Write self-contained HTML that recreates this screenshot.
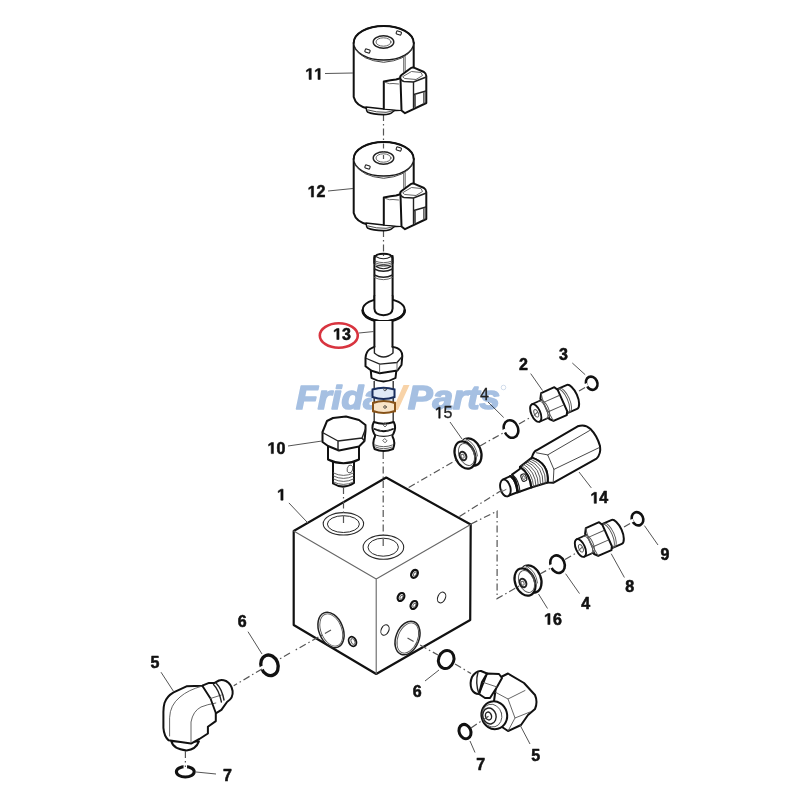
<!DOCTYPE html>
<html><head><meta charset="utf-8"><style>
html,body{margin:0;padding:0;background:#fff;width:800px;height:800px;overflow:hidden}
svg{display:block}
.o{fill:none;stroke:#111;stroke-width:2;stroke-linejoin:round;stroke-linecap:round}
.m{fill:none;stroke:#222;stroke-width:1.4;stroke-linejoin:round;stroke-linecap:round}
.t{fill:none;stroke:#555;stroke-width:0.9;stroke-linejoin:round;stroke-linecap:round}
.w{fill:#fff;stroke:#111;stroke-width:2;stroke-linejoin:round}
.wm{fill:#fff;stroke:#222;stroke-width:1.3;stroke-linejoin:round}
.l{fill:none;stroke:#555;stroke-width:1}
.d{fill:none;stroke:#555;stroke-width:1.2;stroke-dasharray:7 3 1.5 3}
.r{fill:none;stroke:#111;stroke-width:2.6}
.n{font-family:"Liberation Sans",sans-serif;font-weight:bold;font-size:16px;fill:#111;stroke:#111;stroke-width:0.55;stroke-linejoin:round}
.nr{font-family:"Liberation Sans",sans-serif;font-weight:normal;font-size:16px;fill:#222;stroke:#222;stroke-width:0.3}
</style></head><body>
<svg width="800" height="800" viewBox="0 0 800 800">
<rect width="800" height="800" fill="#fff"/>

<!-- ===== dashed center lines ===== -->
<g id="dashes">
<path class="d" d="M383.5 114 V165"/>
<path class="d" d="M383.5 230 V262"/>
</g>

<!-- ===== solenoid 11 ===== -->
<g id="sol">
<!-- body -->
<path class="w" d="M353.7 43 V97 Q356 106 368 108 Q383 111 401 110 L401 80 L413.7 76 V43 Z" style="stroke:none"/>
<path class="o" d="M353.7 43 V97 Q356 106 368 108.5 Q384 111 401 110"/>
<path class="o" d="M413.7 43 V67"/>
<!-- top face -->
<ellipse cx="383.7" cy="43" rx="30" ry="17" fill="#fff" stroke="#1a1a1a" stroke-width="1.4"/>
<path class="o" d="M353.7 43 A30 17 0 0 1 413.7 43"/>
<path class="t" d="M355 48.5 Q362 60.5 383.7 62.3 Q405.5 60.5 412.6 48.5" style="stroke:#444;stroke-width:1"/>
<ellipse class="m" cx="383.5" cy="42" rx="10.3" ry="6.3"/>
<ellipse class="t" cx="383.5" cy="42" rx="7.5" ry="4.2"/>
<rect class="m" x="396.3" y="31.4" width="5" height="3.2" rx="0.8" transform="rotate(20 398.8 33)" style="stroke-width:1.1"/>
<rect class="m" x="365" y="49.4" width="5" height="3.2" rx="0.8" transform="rotate(20 367.5 51)" style="stroke-width:1.1"/>
<path class="t" d="M403.7 57 V72 M405.2 56.5 V71"/>
<!-- bottom nub -->
<path class="w" d="M366 107 Q366.5 111 367.5 112 Q373 114.5 383.5 114.6 Q390 114.5 392 112.5 L395 110 L383.8 109 Z" style="stroke-width:1.6"/>
<path class="t" d="M368 110 Q376 112.5 386 112.3 Q391 111.8 393 110.5" style="stroke:#333"/>
<!-- connector -->
<path class="w" d="M383.7 81.5 L398.8 79 L399 76 L412.5 67.3 L426.3 74.5 L426.3 103 L405 113 L401 110 L383.7 108.5 Z" style="stroke:none"/>
<path class="o" d="M383.8 108.8 V81.5 Q391 80 396 79.5 L399.5 78.5"/>
<path class="o" d="M401.5 110.5 L400.5 79 Q399.5 76.5 401.5 75 L411 68 Q412.5 67 414.5 67.8 L424 72 Q426.3 73.5 426.3 76 V103 L405 113.2 L401.5 110.5"/>
<path class="m" d="M401 79.5 Q402 81 404 81.5 L413.5 82 L426.3 77 M413.5 82 V107.5"/>
<path class="t" d="M403 76.5 L411.5 71.5 L421 72.5 L422.5 75.5 L416 79.5 L405 78.5 Z"/>
<path class="m" d="M413.8 94.5 L426 91 M415 94.5 V106.5"/>
<path class="t" d="M423.5 92.5 V103.5 M424.8 92 V103"/>
<path class="t" d="M385.5 82.5 Q390 84.5 393 83.5 L398.5 84"/>
</g>
<g transform="translate(0,116)">
<!-- body -->
<path class="w" d="M353.7 43 V97 Q356 106 368 108 Q383 111 401 110 L401 80 L413.7 76 V43 Z" style="stroke:none"/>
<path class="o" d="M353.7 43 V97 Q356 106 368 108.5 Q384 111 401 110"/>
<path class="o" d="M413.7 43 V67"/>
<!-- top face -->
<ellipse cx="383.7" cy="43" rx="30" ry="17" fill="#fff" stroke="#1a1a1a" stroke-width="1.4"/>
<path class="o" d="M353.7 43 A30 17 0 0 1 413.7 43"/>
<path class="t" d="M355 48.5 Q362 60.5 383.7 62.3 Q405.5 60.5 412.6 48.5" style="stroke:#444;stroke-width:1"/>
<ellipse class="m" cx="383.5" cy="42" rx="10.3" ry="6.3"/>
<ellipse class="t" cx="383.5" cy="42" rx="7.5" ry="4.2"/>
<rect class="m" x="396.3" y="31.4" width="5" height="3.2" rx="0.8" transform="rotate(20 398.8 33)" style="stroke-width:1.1"/>
<rect class="m" x="365" y="49.4" width="5" height="3.2" rx="0.8" transform="rotate(20 367.5 51)" style="stroke-width:1.1"/>
<path class="t" d="M403.7 57 V72 M405.2 56.5 V71"/>
<!-- bottom nub -->
<path class="w" d="M366 107 Q366.5 111 367.5 112 Q373 114.5 383.5 114.6 Q390 114.5 392 112.5 L395 110 L383.8 109 Z" style="stroke-width:1.6"/>
<path class="t" d="M368 110 Q376 112.5 386 112.3 Q391 111.8 393 110.5" style="stroke:#333"/>
<!-- connector -->
<path class="w" d="M383.7 81.5 L398.8 79 L399 76 L412.5 67.3 L426.3 74.5 L426.3 103 L405 113 L401 110 L383.7 108.5 Z" style="stroke:none"/>
<path class="o" d="M383.8 108.8 V81.5 Q391 80 396 79.5 L399.5 78.5"/>
<path class="o" d="M401.5 110.5 L400.5 79 Q399.5 76.5 401.5 75 L411 68 Q412.5 67 414.5 67.8 L424 72 Q426.3 73.5 426.3 76 V103 L405 113.2 L401.5 110.5"/>
<path class="m" d="M401 79.5 Q402 81 404 81.5 L413.5 82 L426.3 77 M413.5 82 V107.5"/>
<path class="t" d="M403 76.5 L411.5 71.5 L421 72.5 L422.5 75.5 L416 79.5 L405 78.5 Z"/>
<path class="m" d="M413.8 94.5 L426 91 M415 94.5 V106.5"/>
<path class="t" d="M423.5 92.5 V103.5 M424.8 92 V103"/>
<path class="t" d="M385.5 82.5 Q390 84.5 393 83.5 L398.5 84"/>
</g>
<path class="d" d="M383.5 143.5 V159" style="stroke-dasharray:5 2.5 1.5 2.5"/>

<!-- labels 11, 12 -->
<path class="l" d="M325 73.5 L353 73"/>
<path class="l" d="M328 191 L353 188.5"/>

<!-- ===== shaft 13 ===== -->
<g id="shaft">
<path class="w" d="M374.4 256 V300 H392.5 V256 Z" style="stroke:none"/>
<path class="o" d="M374.4 256 V301 M392.6 256 V301"/>
<path class="o" d="M374.4 263 V258 Q375.5 254.5 380 254 Q383.5 253.6 387 254 Q391.5 254.5 392.5 258 V263"/>
<path class="m" d="M375.8 256.5 Q383.5 261 391.2 256.5" style="stroke-width:1.1"/>
<path class="t" d="M375 261 Q383.5 264.5 392 261 M375 262.8 Q383.5 266.3 392 262.8 M375 264.6 Q383.5 268.1 392 264.6"/>
<path class="m" d="M376 266.5 Q383.5 263.5 391 266.5 Q383.5 271 376 266.5" style="stroke-width:1.1"/>
<path class="m" d="M374.4 269 Q383.5 273.5 392.5 269"/>
<path class="m" d="M374.4 275 Q383.5 279.5 392.5 275"/>
<path class="t" d="M374.4 277.5 Q383.5 282 392.5 277.5"/>
<!-- flange -->
<ellipse class="w" cx="383.7" cy="309.9" rx="21" ry="11.2"/>
<path class="o" d="M362.7 310.5 A21 11.2 0 0 0 404.7 310.5" style="stroke-width:2.6"/>
<path class="w" d="M374.4 296 V308.5 Q374.6 315 383.5 315.2 Q392.4 315 392.6 308.5 V296" style="stroke:none"/>
<path class="o" d="M374.4 296 V308.5 Q374.6 315 383.5 315.2 Q392.4 315 392.6 308.5 V296"/>
<!-- lower tube -->
<path class="w" d="M374.4 321 V350 H392.5 V321 Z" style="stroke:none"/>
<path class="o" d="M374.4 320.5 V351 M392.5 320.5 V351"/>
<!-- ring below nut -->
<path class="w" d="M370.8 370.8 L371.5 378 Q383.5 385 395.5 378 L396.3 371"/>
<!-- hex nut -->
<path d="M365.5 358 Q366 351.5 370 349 Q373 347.2 376 347 H392 Q398 347.5 400.5 350.5 Q402.5 353 402.3 356 L401.5 365 L397.5 370.5 L379.8 373.2 L371.5 370.8 L365.5 366.3 Z" fill="#fff"/>
<path class="o" d="M374.4 347 Q373 347.2 370 349 Q366 351.5 365.5 358 V366.3 L371.5 370.8 L379.8 373.2 L397.5 370.5 L401.5 365 L402.3 356 Q402.5 353 400.5 350.5 Q398 347.5 392.5 347"/>
<path class="m" d="M366.5 358.5 L379.8 364.2 L397 362.5 L401.8 357" style="stroke-width:1.3"/>
<path class="t" d="M379.6 364.5 V372.8 M397 362.5 V370.5"/>
<path class="m" d="M374.4 347 V353 Q383.5 361 393 353 V347" style="stroke-width:1.4"/>
<!-- cartridge body -->
<path class="w" d="M374.2 383 V422 H393.2 V383" style="stroke:none"/>
<path d="M374.2 381 V422 M393.2 381 V422" fill="none" stroke="#333" stroke-width="1.4"/>
<path d="M372.5 389.5 Q383.5 386 394.5 389.5 V397 Q383.5 401 372.5 397 Z" fill="#fff" stroke="#1c3261" stroke-width="2"/>
<path d="M373 403 Q383.5 399 395 403 V411 Q383.5 415 373 411 Z" fill="#fff" stroke="#8a5a1e" stroke-width="2"/>
<path class="w" d="M373.8 422 Q371 427.5 374 433.5 Q375.5 435 375 436.5 Q372 442.5 374.5 449 Q383.5 453 393 449 Q395.8 442.5 392.5 436.5 Q392 435 393.5 433.5 Q396.5 427.5 393.8 422 Q383.5 425.5 373.8 422 Z"/>
<path class="o" d="M374.5 429 Q383.5 433.5 393 429" style="stroke-width:1.8"/>
<path class="m" d="M375 434.8 Q383.5 438 392.5 434.8" style="stroke-width:1.2"/>
<path class="t" d="M375 445 Q383.5 448.5 392.5 445 M375.5 447 Q383.5 450.5 392 447"/>
<path class="t" d="M385 423 l1.8 2 l-1.8 2 l-1.8 -2 Z M385 438.8 l2 2 l-2 2 l-2 -2 Z"/>
<path class="t" d="M377 429.5 Q380 430 381.5 431 M386.5 431 Q389 430.5 390.5 429.5"/>
<circle class="t" cx="385" cy="389.5" r="1.3"/>
<circle class="t" cx="385" cy="407" r="1.3"/>
</g>


<!-- ===== plug 10 ===== -->
<g id="plug10">
<path class="w" d="M333 462 V483.5 Q343.5 490 354 483 V462 Z"/>
<path class="t" d="M333.5 473 Q343.5 478 353.5 473 M333.5 476 Q343.5 481 353.5 476 M333.5 479 Q343.5 484 353.5 479 M333.5 482 Q343.5 487 353.5 482"/>
<ellipse class="t" cx="350" cy="469" rx="2.8" ry="4" transform="rotate(15 350 469)"/>
<path class="w" d="M328 445 V459.5 Q343.5 467 359 459.5 V445 Z"/>
<path class="w" d="M322.5 432 L327 421 L333 418 L346 416.5 L359 420 L365.5 425 L365.5 431 L364.5 441 L359 446.5 L339 450.5 L328 446 L322.5 442 Z"/>
<path class="m" d="M322.5 432.5 L338 441 L362 438 L365.5 429 M338 441 V450.5 M362 438 L364.5 441"/>
</g>

<!-- ===== block 1 ===== -->
<g id="block">
<path d="M293.7 531 L386.2 477.5 L470.7 524.5 L470.2 620 L376.2 674 L293.7 625 Z" fill="#fff" stroke="#111" stroke-width="2.2" stroke-linejoin="round"/>
<path class="t" d="M293.7 531 L376.2 579 L470.7 524.5 M376.2 579 V674" style="stroke:#666;stroke-width:1.1"/>
<ellipse cx="343.4" cy="523.8" rx="20.2" ry="11.2" fill="none" stroke="#2a2a2a" stroke-width="1.1"/>
<ellipse cx="343.4" cy="524.1" rx="16" ry="8.4" fill="none" stroke="#2a2a2a" stroke-width="1"/>
<ellipse cx="383.4" cy="547.2" rx="20.3" ry="12.1" fill="none" stroke="#2a2a2a" stroke-width="1.1"/>
<ellipse cx="383.2" cy="547.2" rx="15.2" ry="9" fill="none" stroke="#2a2a2a" stroke-width="1"/>
<!-- left face port -->
<ellipse class="m" cx="331" cy="630" rx="12" ry="18.5" transform="rotate(-22 331 630)" style="stroke-width:1.5"/>
<ellipse class="t" cx="331.3" cy="630" rx="10.3" ry="16.8" transform="rotate(-22 331.3 630)"/>
<ellipse class="o" cx="352.5" cy="641.5" rx="3.6" ry="5" transform="rotate(-25 352.5 641.5)" style="stroke-width:1.8"/>
<ellipse class="t" cx="353" cy="641.5" rx="1.8" ry="3" transform="rotate(-25 353 641.5)"/>
<!-- right face -->
<ellipse class="m" cx="407.5" cy="638" rx="11.5" ry="17.5" transform="rotate(22 407.5 638)" style="stroke-width:1.5"/>
<ellipse class="t" cx="407.8" cy="638" rx="9.8" ry="15.8" transform="rotate(22 407.8 638)"/>
<ellipse class="o" cx="414.5" cy="573.8" rx="3" ry="4.2" transform="rotate(30 414.5 573.8)" style="stroke-width:2.3"/>
<ellipse class="t" cx="415.0" cy="573.8" rx="1.3" ry="2.2" transform="rotate(30 414.5 573.8)"/>
<ellipse class="o" cx="401" cy="597" rx="3" ry="4.2" transform="rotate(30 401 597)" style="stroke-width:2.3"/>
<ellipse class="t" cx="401.5" cy="597" rx="1.3" ry="2.2" transform="rotate(30 401 597)"/>
<ellipse class="o" cx="413.9" cy="605" rx="3" ry="4.2" transform="rotate(30 413.9 605)" style="stroke-width:2.3"/>
<ellipse class="t" cx="414.4" cy="605" rx="1.3" ry="2.2" transform="rotate(30 413.9 605)"/>
<ellipse class="m" cx="441.6" cy="597.5" rx="3.8" ry="5.6" transform="rotate(25 441.6 597.5)" style="stroke-width:1.1"/>
<ellipse class="m" cx="385" cy="630" rx="3.8" ry="5.4" transform="rotate(25 385 630)" style="stroke-width:1.1"/>
</g>


<!-- ===== fitting 2 (symbol) ===== -->
<g id="fit2">
<g transform="translate(535.75 413) rotate(-24)">
<path class="w" d="M27.5 -13 H39.5 A5.5 13 0 0 1 39.5 13 H27.5 Z"/>
<path class="t" d="M29.5 -13 A5 13 0 0 1 29.5 13 M31.5 -13 A5 13 0 0 1 31.5 13"/>
<path class="w" d="M10 -11 L13 -16 H27.5 L29.5 -12 V11 L27.5 14.5 H13 L10 11 Z"/>
<path class="t" d="M13 -16 Q10.5 -6 12 4 L13 14.5 M12 4 H28.5 M11.5 -6.5 H28.5"/>
<path class="w" d="M0 -9.5 H10.5 V9.5 H0 Z" style="stroke:none"/>
<path class="o" d="M0 -9.5 H10.5 M0 9.5 H10.5" style="stroke-width:1.7"/>
<path class="t" d="M7.5 -9.5 A4 9.5 0 0 1 7.5 9.5 M9.5 -9.5 A4 9.5 0 0 1 9.5 9.5"/>
<ellipse class="w" cx="0" cy="0" rx="4.5" ry="9.5" style="stroke-width:1.9"/>
<ellipse class="t" cx="0.3" cy="0.5" rx="2" ry="4"/>
<path class="t" d="M-2.5 1.5 L2 0"/>
</g>
</g>
<g transform="translate(44.7 135)">
<g transform="translate(535.75 413) rotate(-24)">
<path class="w" d="M27.5 -13 H39.5 A5.5 13 0 0 1 39.5 13 H27.5 Z"/>
<path class="t" d="M29.5 -13 A5 13 0 0 1 29.5 13 M31.5 -13 A5 13 0 0 1 31.5 13"/>
<path class="w" d="M10 -11 L13 -16 H27.5 L29.5 -12 V11 L27.5 14.5 H13 L10 11 Z"/>
<path class="t" d="M13 -16 Q10.5 -6 12 4 L13 14.5 M12 4 H28.5 M11.5 -6.5 H28.5"/>
<path class="w" d="M0 -9.5 H10.5 V9.5 H0 Z" style="stroke:none"/>
<path class="o" d="M0 -9.5 H10.5 M0 9.5 H10.5" style="stroke-width:1.7"/>
<path class="t" d="M7.5 -9.5 A4 9.5 0 0 1 7.5 9.5 M9.5 -9.5 A4 9.5 0 0 1 9.5 9.5"/>
<ellipse class="w" cx="0" cy="0" rx="4.5" ry="9.5" style="stroke-width:1.9"/>
<ellipse class="t" cx="0.3" cy="0.5" rx="2" ry="4"/>
<path class="t" d="M-2.5 1.5 L2 0"/>
</g>
</g>

<!-- ===== plug 15 (symbol) ===== -->
<g id="plug15">
<ellipse class="w" cx="471" cy="452" rx="9.8" ry="14.2" transform="rotate(-22 471 452)" style="stroke-width:2.3"/>
<path class="w" d="M459 442.5 L466 438.6 L474 465.8 L467.5 469.5 Z" style="stroke:none"/>
<ellipse class="w" cx="465" cy="455" rx="9.8" ry="14.2" transform="rotate(-22 465 455)" style="stroke-width:2.2"/>
<ellipse class="t" cx="466.5" cy="454.5" rx="7.4" ry="11.4" transform="rotate(-22 466.5 454.5)"/>
<path class="t" d="M467 439.5 Q476 444 477.5 456 M465.5 440 Q474 446 475.5 457"/>
<ellipse class="m" cx="463" cy="456" rx="3.2" ry="4.4" transform="rotate(-22 463 456)" style="stroke-width:2"/>
<ellipse class="t" cx="462.6" cy="456.3" rx="1.5" ry="2" transform="rotate(-22 462.6 456.3)"/>
</g>
<g transform="translate(60 127)">
<ellipse class="w" cx="471" cy="452" rx="9.8" ry="14.2" transform="rotate(-22 471 452)" style="stroke-width:2.3"/>
<path class="w" d="M459 442.5 L466 438.6 L474 465.8 L467.5 469.5 Z" style="stroke:none"/>
<ellipse class="w" cx="465" cy="455" rx="9.8" ry="14.2" transform="rotate(-22 465 455)" style="stroke-width:2.2"/>
<ellipse class="t" cx="466.5" cy="454.5" rx="7.4" ry="11.4" transform="rotate(-22 466.5 454.5)"/>
<path class="t" d="M467 439.5 Q476 444 477.5 456 M465.5 440 Q474 446 475.5 457"/>
<ellipse class="m" cx="463" cy="456" rx="3.2" ry="4.4" transform="rotate(-22 463 456)" style="stroke-width:2"/>
<ellipse class="t" cx="462.6" cy="456.3" rx="1.5" ry="2" transform="rotate(-22 462.6 456.3)"/>
</g>

<!-- ===== cartridge 14 ===== -->
<g id="c14">
<path class="w" d="M531.9 457.6 Q533.5 451.5 536.5 450.3 L577.7 426.3 Q585 423.6 590.5 429 Q597 435.5 600 446 Q601.2 454 596.5 458.6 L553.2 482.8 L547.7 482.5 Q549 463 531.9 457.6 Z"/>
<path class="t" d="M536.5 452.8 L547.7 454.9 L553.9 469.4 L553.2 482.8 M547.7 454.9 L589.5 430.6 M553.9 469.4 L599.6 447.4" style="stroke:#333"/>
<path class="w" d="M520 466.9 L531.9 457.6 Q549 463 547.7 482.5 L531.25 487.5 Q530 474 520 466.9 Z"/>
<path class="t" d="M521.7 465.6 Q532.7 472.4 533.6 486.8 M523.4 464.2 Q535.4 470.9 536.0 486.1 M525.1 462.9 Q538.1 469.3 538.3 485.4 M526.8 461.6 Q540.9 467.7 540.6 484.6 M528.5 460.3 Q543.6 466.1 543.0 483.9 M530.2 458.9 Q546.3 464.6 545.4 483.2" style="stroke:#444"/>
<path class="w" d="M512 474.6 L519.8 469 L520 466.9 Q530 474 531.25 487.5 L518 492.3 Q517 480 512 474.6 Z"/>
<rect class="m" x="521.3" y="474" width="5" height="7.2" rx="2" transform="rotate(-20 523.8 477.6)" style="stroke-width:1.1"/>
<rect class="t" x="522.6" y="475.8" width="2.4" height="3.6" rx="1" transform="rotate(-20 523.8 477.6)"/>
<path class="w" d="M502.75 479.6 L510.5 476 Q516.5 481 517.5 492.3 L507.25 496.1 Z"/>
<path class="o" d="M510.5 476 Q516.5 481 517.5 492.3" style="stroke-width:2"/>
<path class="m" d="M513 475.2 Q519 480 520 491.8" style="stroke-width:1.2"/>
<ellipse class="w" cx="505.4" cy="488" rx="5" ry="8.6" transform="rotate(-15 505.4 488)" style="stroke-width:1.9"/>
<path class="t" d="M501 492 L506 489.5"/>
</g>

<!-- ===== o-rings ===== -->
<g id="orings">
<ellipse class="r" cx="591.7" cy="383.2" rx="5.6" ry="6.8" transform="rotate(-25 591.7 383.2)"/>
<ellipse class="r" cx="637.5" cy="518.8" rx="5.6" ry="6.8" transform="rotate(-25 637.5 518.8)"/>
<ellipse class="r" cx="511" cy="429" rx="7" ry="9" transform="rotate(-22 511 429)"/>
<ellipse class="r" cx="557.5" cy="564.2" rx="7" ry="9" transform="rotate(-22 557.5 564.2)"/>
<ellipse class="r" cx="269.5" cy="665.3" rx="8.5" ry="10.5" transform="rotate(-20 269.5 665.3)" style="stroke-width:3.3"/>
<ellipse class="r" cx="446.2" cy="659.5" rx="7.6" ry="9.2" transform="rotate(20 446.2 659.5)" style="stroke-width:3"/>
<ellipse class="r" cx="185.3" cy="771.8" rx="8.9" ry="5.2" style="stroke-width:3.1"/>
<ellipse class="r" cx="465" cy="731.6" rx="5.8" ry="7.4" transform="rotate(-22 465 731.6)" style="stroke-width:3"/>
</g>


<!-- ===== left elbow 5 ===== -->
<g id="elbowL">
<path class="w" d="M171.3 741 Q173 749 186.5 750.4 Q196 749.5 198.9 741.4 Z"/>
<path class="w" d="M173.6 692.4 Q167 696 164.5 703 Q163.4 707 163.4 712 V727.9 Q164 736 168.5 740.3 L191 743.6 L199.4 739 L207.9 733.5 V726.8 L215.8 721.1 V713.3 L221.4 709.9 L227 702 Q233.5 698 232.6 691 Q231.5 684 226 681 Q222 679.5 219 680.5 L214.6 682.9 L209 682.9 L202.3 685.7 L186.5 686.3 Z"/>
<path class="t" d="M169.6 736 V717.8 Q170 705 180 697 Q188 690 202.3 686"/>
<path class="t" d="M191 742.5 V722 Q193 711 201 707 Q207 704.5 215.8 703"/>
<path class="o" d="M202.3 685.7 L210.5 698.5 L215.8 713" style="stroke-width:1.9"/>
<path class="t" d="M210.5 698.5 L221.4 695"/>
<path class="m" d="M213.5 684.5 Q219 690 221.4 702 M216 683 Q222 689 224 700"/>
</g>

<!-- ===== right elbow 5 ===== -->
<g id="elbowR">
<path class="w" d="M497 679 L508 673.5 L524 683 L535 695 Q538 702 535 709 L528 715 L521 725 L508 731 L502 727 L492 716 Z"/>
<path class="t" d="M495 692 L508 699 L525 690.5 M508 699 L515 718 L530 712 M515 718 L508 731"/>
<path class="w" d="M487 673.5 L499 674 L502 678 L497 687 L490 698 L485 698 L479 694 Z"/>
<path class="t" d="M482 682 L497 687 M487 673.5 L482 682 L479 694"/>
<path class="w" d="M472 677 Q476 670.5 481 671 L487 673.5 L482 682 L479 694 Q474 694 471.5 689 Q469.5 683 472 677 Z"/>
<path class="m" d="M478 672 Q475 683 479 694"/>
<ellipse class="w" cx="494.3" cy="715.2" rx="12.8" ry="14" transform="rotate(-15 494.3 715.2)"/>
<ellipse class="t" cx="492" cy="715.6" rx="9.8" ry="11.5" transform="rotate(-15 492 715.6)"/>
<ellipse class="m" cx="489.5" cy="716" rx="6.6" ry="8" transform="rotate(-15 489.5 716)"/>
<ellipse class="m" cx="488.5" cy="716" rx="3" ry="4" transform="rotate(-15 488.5 716)"/>
</g>

<g id="gaps" stroke="#fff" stroke-width="3.2" stroke-linecap="butt" fill="none">
<path d="M583.5 386.5 L587.5 384.5"/>
<path d="M629.3 522.1 L633.3 520.1"/>
<path d="M501.5 432.5 L506 430"/>
<path d="M548 568 L552.5 565.5"/>
<path d="M259 669.5 L263.5 667"/>
<path d="M185.3 765 V769.5" stroke-width="3.5"/>
</g>
<!-- ===== dash-dot lines (on top) ===== -->
<g id="dashes2">
<path class="d" d="M343.5 487 V526"/>
<path class="d" d="M383.2 452 V548"/>
<path class="d" d="M408.7 487.5 L458 459 M480 446 L503 433 M519 424 L531 417 M579 391 L586 387"/>
<path class="d" d="M459.5 516.4 L503 489.5"/>
<path class="d" d="M471 524 L497.1 511.1 V598.6 L520 585.5 M540 574 L550 568.5 M565 559.5 L577 552.5 M624 527 L631 523"/>
<path class="d" d="M331 630 L293.7 651 M290 653 L278 660 M262 669 L233.7 685.7"/>
<path class="d" d="M407.5 638 L438 655 M455 664 L471 673.5"/>
<path class="d" d="M185.4 751 V767"/>
<path class="d" d="M471 728 L488.5 716.2"/>
</g>

<!-- ===== leader lines ===== -->
<g id="leaders">
<path class="l" d="M288 446 L322 441"/>
<path class="l" d="M288.9 502.9 L308 523.1"/>
<path class="l" d="M530.7 373.6 L542.5 390.5"/>
<path class="l" d="M572.3 363 L585.2 374.7"/>
<path class="l" d="M488 402 L503.7 417.5"/>
<path class="l" d="M450 422 L462 439"/>
<path class="l" d="M579 472 L591.3 487.9"/>
<path class="l" d="M658 545 L644.4 525.6"/>
<path class="l" d="M624.4 577.5 L611.2 553.7"/>
<path class="l" d="M565.6 573.7 L579.5 593.6"/>
<path class="l" d="M538.5 594 L547.5 608.5"/>
<path class="l" d="M248 631.7 L262 654"/>
<path class="l" d="M161 672.2 L173.6 691.5"/>
<path class="l" d="M196 772 L216 774"/>
<path class="l" d="M425 681 L439 670"/>
<path class="l" d="M475 752.5 L470 741"/>
<path class="l" d="M530 744 L520 725"/>
</g>



<!-- ===== watermark ===== -->
<g id="wm" style="mix-blend-mode:multiply">
<clipPath id="wmc"><rect x="0" y="0" width="372.5" height="800"/></clipPath>
<text clip-path="url(#wmc)" x="296" y="409" textLength="87" lengthAdjust="spacingAndGlyphs" style="font-family:'Liberation Sans',sans-serif;font-weight:bold;font-style:italic;font-size:33px;fill:#a6c0e2;stroke:#a6c0e2;stroke-width:1.6;stroke-linejoin:round">Frida</text>
<text x="408" y="409" textLength="92" lengthAdjust="spacingAndGlyphs" style="font-family:'Liberation Sans',sans-serif;font-weight:bold;font-style:italic;font-size:33px;fill:#a6c0e2;stroke:#a6c0e2;stroke-width:1.6;stroke-linejoin:round">Parts</text>
<path d="M403.5 385 L409.5 385 L398 410 L392.5 410 Z" fill="#f8d3a8"/>
<path d="M372 388 H395.5 V401 H372 Z" fill="#dfe9f6"/>
<path d="M372 401 H396 V413 H372 Z" fill="#f8e4c8"/>
<circle cx="503.5" cy="387.5" r="2.3" fill="none" stroke="#c5d3e6" stroke-width="0.8"/>
</g>

<!-- label 13 -->
<ellipse cx="338.8" cy="335.5" rx="19" ry="12.3" fill="none" stroke="#d8343f" stroke-width="2.6"/>
<path class="l" d="M359 333 L374 331.5"/>

<!-- ===== labels ===== -->
<g id="labels">
<path d="M309.07,79.45 309.07,70.31 306.43,71.96 306.43,70.24 309.19,68.45 311.27,68.45 311.27,79.45Z" fill="#111" stroke="#111" stroke-width="0.55" stroke-linejoin="round"/>
<path d="M317.97,79.45 317.97,70.31 315.33,71.96 315.33,70.24 318.09,68.45 320.17,68.45 320.17,79.45Z" fill="#111" stroke="#111" stroke-width="0.55" stroke-linejoin="round"/>
<path d="M311.36,197.09 311.36,187.95 308.72,189.59 308.72,187.87 311.48,186.08 313.55,186.08 313.55,197.09Z" fill="#111" stroke="#111" stroke-width="0.55" stroke-linejoin="round"/>
<text class="n" x="316.52" y="197.09">2</text>
<path d="M336.83,339.50 336.83,330.36 334.19,332.00 334.19,330.28 336.95,328.49 339.02,328.49 339.02,339.50Z" fill="#111" stroke="#111" stroke-width="0.55" stroke-linejoin="round"/>
<text class="n" x="341.99" y="339.50">3</text>
<path d="M271.24,453.58 271.24,444.44 268.60,446.09 268.60,444.36 271.36,442.57 273.44,442.57 273.44,453.58Z" fill="#111" stroke="#111" stroke-width="0.55" stroke-linejoin="round"/>
<text class="n" x="276.41" y="453.58">0</text>
<path d="M280.87,500.15 280.87,491.01 278.23,492.66 278.23,490.94 280.99,489.15 283.07,489.15 283.07,500.15Z" fill="#111" stroke="#111" stroke-width="0.55" stroke-linejoin="round"/>
<text class="n" x="518.99" y="369.89">2</text>
<text class="n" x="559.11" y="360.00">3</text>
<text class="nr" x="479.90" y="400.20">4</text>
<path d="M438.74,418.18 438.74,408.51 436.26,410.29 436.26,408.96 438.86,407.17 440.16,407.17 440.16,418.18Z" fill="#111" stroke="#111" stroke-width="0.55" stroke-linejoin="round"/>
<text class="nr" x="443.62" y="418.18">5</text>
<path d="M594.18,503.35 594.18,494.21 591.54,495.86 591.54,494.14 594.30,492.35 596.38,492.35 596.38,503.35Z" fill="#111" stroke="#111" stroke-width="0.55" stroke-linejoin="round"/>
<text class="n" x="599.35" y="503.35">4</text>
<text class="n" x="660.57" y="559.58">9</text>
<text class="n" x="625.22" y="592.38">8</text>
<text class="n" x="581.15" y="608.70">4</text>
<path d="M547.83,624.51 547.83,615.37 545.19,617.02 545.19,615.29 547.95,613.50 550.02,613.50 550.02,624.51Z" fill="#111" stroke="#111" stroke-width="0.55" stroke-linejoin="round"/>
<text class="n" x="552.99" y="624.51">6</text>
<text class="n" x="237.77" y="627.11">6</text>
<text class="n" x="150.38" y="668.18">5</text>
<text class="n" x="223.11" y="780.65">7</text>
<text class="n" x="412.80" y="696.86">6</text>
<text class="n" x="476.23" y="770.35">7</text>
<text class="n" x="531.35" y="760.68">5</text>
</g>
</svg>
</body></html>
